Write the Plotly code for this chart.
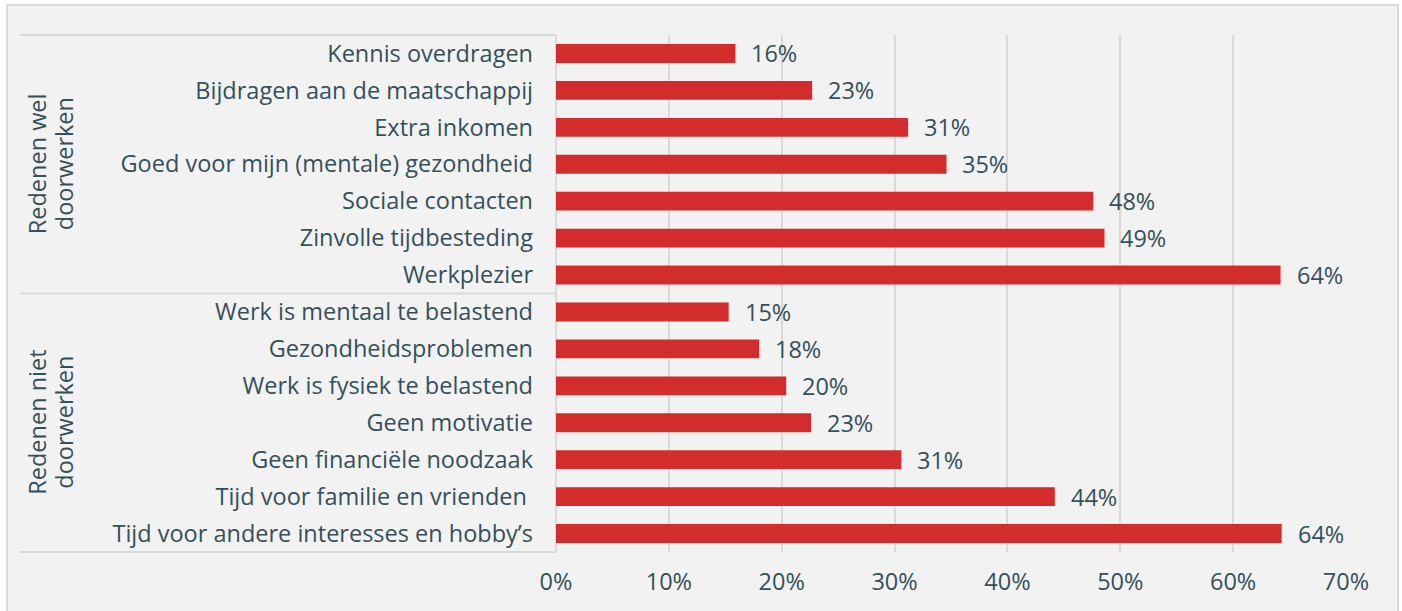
import plotly.graph_objects as go

categories = [
    "Kennis overdragen",
    "Bijdragen aan de maatschappij",
    "Extra inkomen",
    "Goed voor mijn (mentale) gezondheid",
    "Sociale contacten",
    "Zinvolle tijdbesteding",
    "Werkplezier",
    "Werk is mentaal te belastend",
    "Gezondheidsproblemen",
    "Werk is fysiek te belastend",
    "Geen motivatie",
    "Geen financiële noodzaak",
    "Tijd voor familie en vrienden ",
    "Tijd voor andere interesses en hobby’s",
]
values = [15.9, 22.7, 31.2, 34.6, 47.6, 48.6, 64.2,
          15.3, 18.0, 20.4, 22.6, 30.6, 44.2, 64.3]
value_labels = ["16%", "23%", "31%", "35%", "48%", "49%", "64%",
                "15%", "18%", "20%", "23%", "31%", "44%", "64%"]
group_lines = [("Redenen wel", "doorwerken"), ("Redenen niet", "doorwerken")]
x_ticks = [0, 10, 20, 30, 40, 50, 60, 70]
x_tick_labels = ["0%", "10%", "20%", "30%", "40%", "50%", "60%", "70%"]

FONT = "'Open Sans', Lato, sans-serif"
FS = 23.5
TXT = "#34505a"
GRID = "#d9d9d9"
BAR = "#d22c2c"

W, H = 1402, 611
L, R, T, B = 556, 56, 35, 59
pw, ph = W - L - R, H - T - B

def px_x(px):
    return (px - L) / pw

def px_y(py):
    return (H - B - py) / ph

fig = go.Figure()
fig.add_trace(go.Bar(
    x=values, y=categories, orientation="h",
    marker=dict(color=BAR, line=dict(width=0)),
    hoverinfo="skip",
))

annotations = []
for cat, v, lab in zip(categories, values, value_labels):
    annotations.append(dict(x=v, y=cat, xref="x", yref="y", text=lab,
                            showarrow=False, xanchor="left", xshift=14,
                            font=dict(family=FONT, size=FS, color=TXT)))
n = len(categories)
half = 7
for i, (l1, l2) in enumerate(group_lines):
    ycenter = 1 - (i * half + half / 2) / n
    for txt, xp in ((l1, 37), (l2, 64)):
        annotations.append(dict(x=px_x(xp), y=ycenter, xref="paper", yref="paper",
                                text=txt, showarrow=False, textangle=-90,
                                xanchor="center", yanchor="middle",
                                font=dict(family=FONT, size=FS, color=TXT)))

shapes = [
    dict(type="rect", xref="paper", yref="paper", layer="below",
         x0=px_x(7), x1=px_x(1398), y0=px_y(625), y1=px_y(5),
         fillcolor="#f2f2f2", line=dict(color=GRID, width=2)),
]
for yp in [1.0, 0.5, 0.0]:
    shapes.append(dict(type="line", xref="paper", yref="paper", layer="above",
                       x0=px_x(20), x1=0, y0=yp, y1=yp,
                       line=dict(color=GRID, width=2)))

fig.update_layout(
    width=W, height=H,
    margin=dict(l=L, r=R, t=T, b=B, pad=0),
    paper_bgcolor="white",
    plot_bgcolor="white",
    bargap=0.49,
    showlegend=False,
    font=dict(family=FONT, size=FS, color=TXT),
    annotations=annotations,
    shapes=shapes,
    xaxis=dict(range=[0, 70], tickvals=x_ticks, ticktext=x_tick_labels,
               showgrid=True, gridcolor=GRID, gridwidth=2,
               zeroline=True, zerolinecolor=GRID, zerolinewidth=2,
               showline=False, ticks="", ticklabelstandoff=13,
               tickfont=dict(family=FONT, size=FS, color=TXT), fixedrange=True),
    yaxis=dict(autorange="reversed", categoryorder="array", categoryarray=categories,
               showgrid=False, zeroline=False, showline=False, ticks="",
               ticklabelstandoff=22,
               tickfont=dict(family=FONT, size=FS, color=TXT), fixedrange=True),
)

fig.write_html("out.html", config={"displayModeBar": False},
               post_script="document.body.style.margin='0';")
